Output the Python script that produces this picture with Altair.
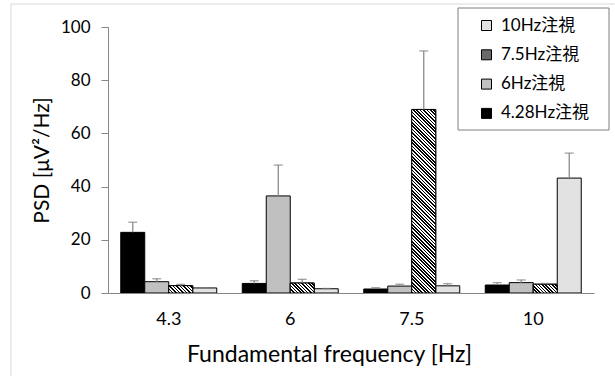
import altair as alt

# ---------------- data ----------------
categories = ["4.3", "6", "7.5", "10"]
series = ["4.28Hz注視", "6Hz注視", "7.5Hz注視", "10Hz注視"]

psd_428 = [22.8, 3.6, 1.5, 3.0]
psd_6 = [4.25, 36.5, 2.6, 3.9]
psd_75 = [2.75, 3.75, 69.0, 3.3]
psd_10 = [1.9, 1.6, 2.7, 43.2]

err_428 = [3.8, 1.0, 0.5, 0.9]
err_6 = [1.1, 11.6, 0.7, 1.0]
err_75 = [0.5, 1.4, 22.0, 0.3]
err_10 = [0.1, 0.1, 0.8, 9.4]

values = [psd_428, psd_6, psd_75, psd_10]
errors = [err_428, err_6, err_75, err_10]
fills = ["#000000", "#c0c0c0", "#6a6a6a", "#e2e2e2"]

# ---------------- geometry / style ----------------
PLOT_W, PLOT_H = 486, 266
Y_MAX = 100
PAD_INNER = 0.21
BAR_W = PLOT_W / 4 * (1 - PAD_INNER) / 4
PERIOD = 3.4
FONT = "Lato, 'Noto Sans CJK JP', sans-serif"
AXIS_GRAY = "#868686"


def stripes(w, h):
    h = max(h, 1.0)
    k = (w + h) / (w * w + h * h)
    n = max(1, round((w + h) / PERIOD))
    stops = []
    for i in range(n):
        a, b, c = i / n, (i + 0.5) / n, (i + 1) / n
        stops += [
            {"offset": a, "color": "#000000"},
            {"offset": b, "color": "#000000"},
            {"offset": b, "color": "#ffffff"},
            {"offset": c, "color": "#ffffff"},
        ]
    return {"gradient": "linear", "x1": 0, "y1": 1, "x2": k * w, "y2": 1 - k * h, "stops": stops}


rows = []
hatched = []
for ci, c in enumerate(categories):
    for si, s in enumerate(series):
        v = values[si][ci]
        rows.append({"freq": c, "series": s, "psd": v, "upper": v + errors[si][ci]})
        if s == "7.5Hz注視":
            hatched.append({"freq": c, "series": s, "psd": v,
                            "grad": stripes(BAR_W, v * PLOT_H / Y_MAX)})

data = alt.Data(values=rows)
one = alt.Data(values=[{"k": 0}])

x_enc = alt.X(
    "freq:N",
    sort=categories,
    scale=alt.Scale(paddingInner=PAD_INNER, paddingOuter=PAD_INNER / 2),
    axis=alt.Axis(
        title="Fundamental frequency [Hz]",
        labelAngle=0,
        ticks=False,
        domainColor=AXIS_GRAY,
        labelFontSize=18,
        labelPadding=17,
        titleFontSize=23,
        titlePadding=15,
        titleX=221,
        titleAlign="center",
        titleFontWeight="normal",
        labelColor="#000000",
        titleColor="#000000",
        zindex=1,
    ),
)
xoff = alt.XOffset("series:N", sort=series, scale=alt.Scale(domain=series, paddingInner=0, paddingOuter=0))
y_enc = alt.Y(
    "psd:Q",
    stack=None,
    scale=alt.Scale(domain=[0, Y_MAX], nice=False),
    axis=alt.Axis(
        title="PSD [μV²/Hz]",
        values=[0, 20, 40, 60, 80, 100],
        grid=False,
        tickSize=7,
        tickColor=AXIS_GRAY,
        domainColor=AXIS_GRAY,
        labelFontSize=17,
        labelPadding=11,
        titleFontSize=21,
        titlePadding=8,
        titleFontWeight="normal",
        labelColor="#000000",
        titleColor="#000000",
        zindex=1,
    ),
)

frame = alt.Chart(one).mark_rect(fill="transparent", stroke="#d9d9d9", strokeWidth=1).encode(
    x=alt.value(-97), x2=alt.value(620), y=alt.value(-23), y2=alt.value(400)
)

bars = alt.Chart(data).mark_bar(stroke="#000000", strokeWidth=1).encode(
    x=x_enc,
    xOffset=xoff,
    y=y_enc,
    color=alt.Color(
        "series:N",
        scale=alt.Scale(domain=series, range=fills),
        legend=alt.Legend(
            title=None,
            orient="none",
            legendX=370,
            legendY=-10,
            values=series[::-1],
            symbolType="square",
            symbolSize=100,
            symbolStrokeColor="#000000",
            symbolStrokeWidth=1,
            symbolOpacity=1,
            labelFontSize=17,
            labelColor="#000000",
            labelOffset=6,
            rowPadding=11.3,
            padding=0,
        ),
    ),
)

hatch = alt.Chart(alt.Data(values=hatched)).mark_bar(stroke="#000000", strokeWidth=1).encode(
    x=alt.X("freq:N", sort=categories),
    xOffset=alt.XOffset("series:N", sort=series),
    y=alt.Y("psd:Q", stack=None),
    fill=alt.Fill("grad:N", scale=None),
)

err_line = alt.Chart(data).mark_rule(color="#8c8c8c", strokeWidth=1.3).encode(
    x=alt.X("freq:N", sort=categories),
    xOffset=alt.XOffset("series:N", sort=series),
    y=alt.Y("psd:Q", stack=None),
    y2="upper:Q",
)
err_cap = alt.Chart(data).mark_tick(color="#7a7a7a", size=9, thickness=1.3).encode(
    x=alt.X("freq:N", sort=categories),
    xOffset=alt.XOffset("series:N", sort=series),
    y=alt.Y("upper:Q"),
)

legend_box = alt.Chart(one).mark_rect(fill="white", stroke="#7f7f7f", strokeWidth=1).encode(
    x=alt.value(350), x2=alt.value(501), y=alt.value(-19), y2=alt.value(103)
)

chart = (
    alt.layer(frame, bars, hatch, err_line, err_cap, legend_box)
    .properties(
        width=PLOT_W,
        height=PLOT_H,
        autosize=alt.AutoSizeParams(type="none"),
        padding={"left": 108, "top": 27, "right": 615 - 108 - PLOT_W, "bottom": 376 - 27 - PLOT_H},
        background="white",
    )
    .configure(font=FONT)
    .configure_view(stroke=None)
)

chart.save("out.html", embed_options={"renderer": "svg", "actions": False})
